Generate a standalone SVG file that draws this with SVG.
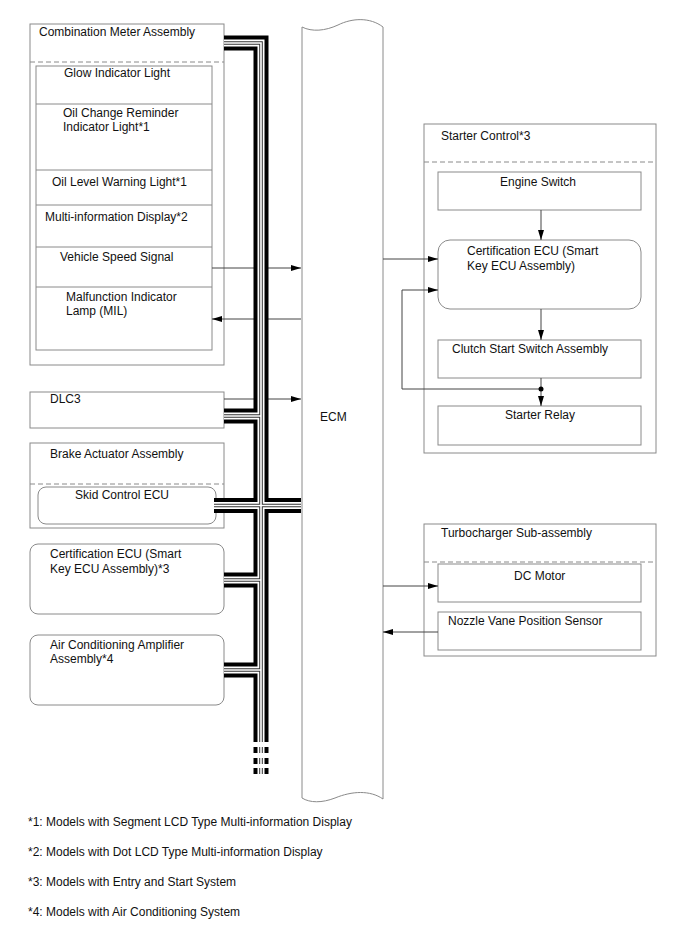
<svg xmlns="http://www.w3.org/2000/svg" width="688" height="949" viewBox="0 0 688 949">
<defs>
<style>
text{font-family:"Liberation Sans",Arial,sans-serif;font-size:12px;fill:#111}
.box{fill:#fff;stroke:#8a8a8a;stroke-width:1}
.dash{fill:none;stroke:#8a8a8a;stroke-width:1;stroke-dasharray:5,3}
.conn{fill:none;stroke:#444;stroke-width:1}
.c1{fill:none;stroke:#000;stroke-width:15;stroke-linejoin:miter}
.c2{fill:none;stroke:#fff;stroke-width:7;stroke-linejoin:miter}
.c3{fill:none;stroke:#333;stroke-width:3.6;stroke-linejoin:miter}
.c4{fill:none;stroke:#fff;stroke-width:1.6;stroke-linejoin:miter}
</style>
<marker id="arr" viewBox="0 0 10 6" refX="10" refY="3" markerWidth="10" markerHeight="6" markerUnits="userSpaceOnUse" orient="auto">
<path d="M0,0 L10,3 L0,6 Z" fill="#000"/>
</marker>
<path id="bus" d="M224,43 H261 V742 M224,416 H261 M214,505.5 H301 M224,580 H261 M224,670 H261 M261,747 V753 M261,758 V764 M261,768 V774"/>
</defs>

<g id="ecm">
<path class="box" d="M302,27 C312,32 325,31 338,25 C352,18 370,17 383,27 V799 C370,790 352,791 335,798 C322,803 310,803 302,798 Z"/>
<text x="320" y="421">ECM</text>
</g>

<g id="combination-meter">
<rect class="box" x="30" y="24" width="194" height="341"/>
<text x="39" y="36">Combination Meter Assembly</text>
<line class="dash" x1="30" y1="62" x2="224" y2="62"/>
<rect class="box" x="36" y="66" width="176" height="284"/>
<line class="box" x1="36" y1="104" x2="212" y2="104"/>
<line class="box" x1="36" y1="170" x2="212" y2="170"/>
<line class="box" x1="36" y1="205" x2="212" y2="205"/>
<line class="box" x1="36" y1="247" x2="212" y2="247"/>
<line class="box" x1="36" y1="287" x2="212" y2="287"/>
<text x="64" y="77">Glow Indicator Light</text>
<text x="63" y="117">Oil Change Reminder</text>
<text x="63" y="131">Indicator Light*1</text>
<text x="52" y="186">Oil Level Warning Light*1</text>
<text x="45" y="221">Multi-information Display*2</text>
<text x="60" y="261">Vehicle Speed Signal</text>
<text x="66" y="301">Malfunction Indicator</text>
<text x="66" y="315">Lamp (MIL)</text>
</g>

<g id="dlc3">
<rect class="box" x="30" y="392" width="194" height="36"/>
<text x="50" y="403">DLC3</text>
</g>

<g id="brake-actuator">
<rect class="box" x="30" y="443" width="194" height="85"/>
<text x="50" y="458">Brake Actuator Assembly</text>
<line class="dash" x1="30" y1="484" x2="224" y2="484"/>
<rect class="box" x="38" y="487" width="178" height="37" rx="8"/>
<text x="75" y="499">Skid Control ECU</text>
</g>

<g id="cert-ecu-left">
<rect class="box" x="30" y="544" width="194" height="70" rx="8"/>
<text x="50" y="558">Certification ECU (Smart</text>
<text x="50" y="573">Key ECU Assembly)*3</text>
</g>

<g id="air-con">
<rect class="box" x="30" y="635" width="194" height="70" rx="8"/>
<text x="50" y="649">Air Conditioning Amplifier</text>
<text x="50" y="663">Assembly*4</text>
</g>

<g id="starter-control">
<rect class="box" x="424" y="124" width="232" height="329"/>
<text x="441" y="140">Starter Control*3</text>
<line class="dash" x1="424" y1="162" x2="656" y2="162"/>
<g id="engine-switch">
<rect class="box" x="438" y="172" width="203" height="38"/>
<text x="500" y="186">Engine Switch</text>
</g>
<g id="cert-ecu-right">
<rect class="box" x="438" y="240" width="203" height="69" rx="12"/>
<text x="467" y="255">Certification ECU (Smart</text>
<text x="467" y="270">Key ECU Assembly)</text>
</g>
<g id="clutch-switch">
<rect class="box" x="438" y="340" width="203" height="38"/>
<text x="452" y="353">Clutch Start Switch Assembly</text>
</g>
<g id="starter-relay">
<rect class="box" x="438" y="406" width="203" height="39"/>
<text x="505" y="419">Starter Relay</text>
</g>
</g>

<g id="turbocharger">
<rect class="box" x="424" y="524" width="232" height="132"/>
<text x="441" y="537">Turbocharger Sub-assembly</text>
<line class="dash" x1="424" y1="562" x2="656" y2="562"/>
<g id="dc-motor">
<rect class="box" x="438" y="564" width="203" height="38"/>
<text x="514" y="580">DC Motor</text>
</g>
<g id="nozzle-sensor">
<rect class="box" x="438" y="612" width="203" height="38"/>
<text x="448" y="625">Nozzle Vane Position Sensor</text>
</g>
</g>

<g id="connectors">
<line class="conn" x1="212" y1="268" x2="301" y2="268" marker-end="url(#arr)"/>
<line class="conn" x1="301" y1="319" x2="212" y2="319" marker-end="url(#arr)"/>
<line class="conn" x1="224" y1="399" x2="301" y2="399" marker-end="url(#arr)"/>
<line class="conn" x1="383" y1="259" x2="438" y2="259" marker-end="url(#arr)"/>
<line class="conn" x1="541" y1="210" x2="541" y2="240" marker-end="url(#arr)"/>
<line class="conn" x1="541" y1="309" x2="541" y2="340" marker-end="url(#arr)"/>
<line class="conn" x1="541" y1="378" x2="541" y2="406" marker-end="url(#arr)"/>
<path class="conn" d="M541,389 H402 V290 H438" marker-end="url(#arr)"/>
<circle cx="541" cy="389" r="2.5" fill="#000"/>
<line class="conn" x1="383" y1="586" x2="438" y2="586" marker-end="url(#arr)"/>
<line class="conn" x1="438" y1="632" x2="383" y2="632" marker-end="url(#arr)"/>
<g id="bus-lines">
<use href="#bus" class="c1"/>
<use href="#bus" class="c2"/>
<use href="#bus" class="c3"/>
<use href="#bus" class="c4"/>
</g>
</g>

<g id="notes">
<text x="28" y="826">*1: Models with Segment LCD Type Multi-information Display</text>
<text x="28" y="856">*2: Models with Dot LCD Type Multi-information Display</text>
<text x="28" y="886">*3: Models with Entry and Start System</text>
<text x="28" y="916">*4: Models with Air Conditioning System</text>
</g>
</svg>
